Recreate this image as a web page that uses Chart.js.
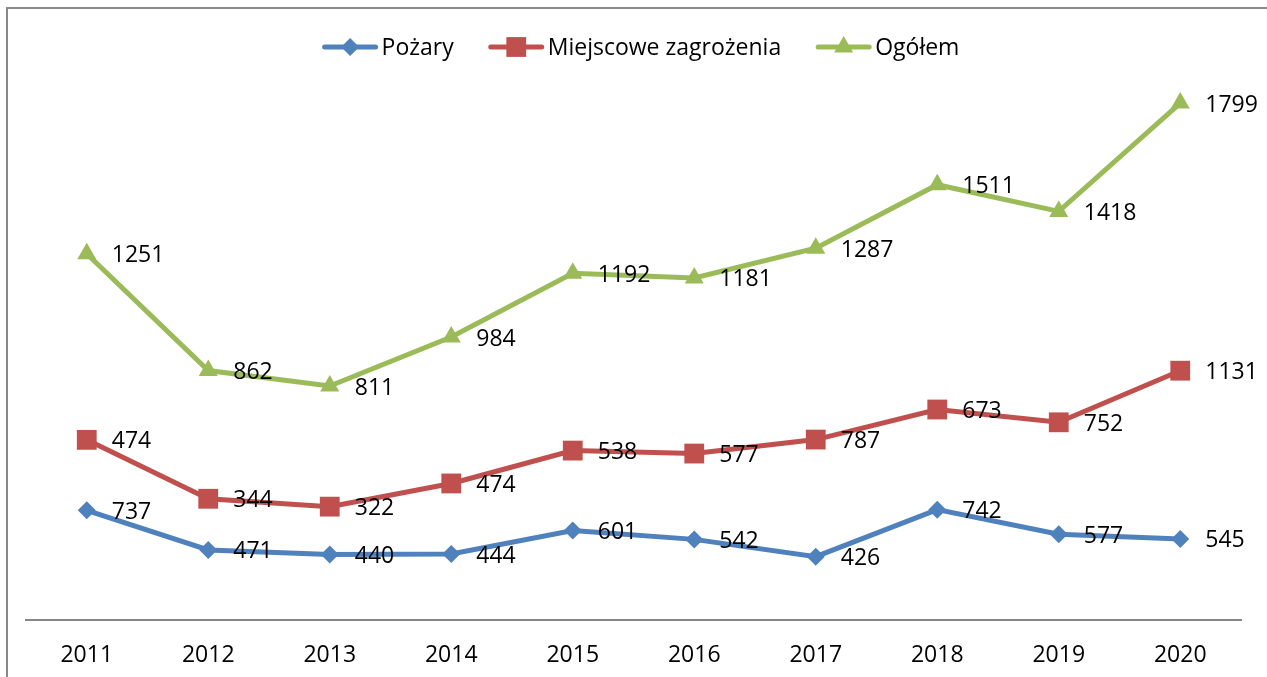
<!DOCTYPE html>
<html>
<head>
<meta charset="utf-8">
<script src="https://cdn.jsdelivr.net/npm/chart.js@4"></script>
<style>
  html, body { margin: 0; padding: 0; background: #fff; overflow: hidden; }
  #frame { position: absolute; left: 6px; top: 7px; width: 1300px; height: 700px;
           border: 2px solid #8a8a8a; pointer-events: none; }
  #chart { position: absolute; left: 0; top: 0; }
</style>
</head>
<body>
<canvas id="chart" width="1267" height="677"></canvas>
<div id="frame"></div>
<script>
// ---------- data ----------
const years = ["2011", "2012", "2013", "2014", "2015", "2016", "2017", "2018", "2019", "2020"];
const pozary = [737, 471, 440, 444, 601, 542, 426, 742, 577, 545];
const miejscowe = [474, 344, 322, 474, 538, 577, 787, 673, 752, 1131];
const ogolem = [1251, 862, 811, 984, 1192, 1181, 1287, 1511, 1418, 1799];
const seriesNames = ["Pożary", "Miejscowe zagrożenia", "Ogółem"];

const FONT = "'Open Sans', 'Noto Sans', sans-serif";
const FONT_SIZE = 23;
const colors = ["#4F81BD", "#C0504D", "#9BBB59"];
const styles = [
  { pointStyle: "rectRot", radius: 9 },
  { pointStyle: "rect", radius: 14 },
  { pointStyle: "triangle", radius: 11 }
];

// small marker drawer (used for legend)
function drawMarker(ctx, style, x, y, color) {
  if (Chart.helpers && Chart.helpers.drawPoint) {
    ctx.fillStyle = color;
    ctx.strokeStyle = color;
    ctx.lineWidth = 0;
    Chart.helpers.drawPoint(ctx, { pointStyle: style.pointStyle, radius: style.radius, rotation: 0, borderWidth: 0 }, x, y);
    return;
  }
  ctx.fillStyle = color;
  ctx.beginPath();
  const r = style.radius;
  if (style.pointStyle === "rectRot") {
    ctx.moveTo(x, y - r); ctx.lineTo(x + r, y); ctx.lineTo(x, y + r); ctx.lineTo(x - r, y);
  } else if (style.pointStyle === "rect") {
    const s = r * Math.SQRT1_2;
    ctx.rect(x - s, y - s, 2 * s, 2 * s);
  } else {
    ctx.moveTo(x, y - r); ctx.lineTo(x + r * 0.866, y + r / 2); ctx.lineTo(x - r * 0.866, y + r / 2);
  }
  ctx.closePath();
  ctx.fill();
}

// ---------- plugins ----------
// legend in Excel style: line segment with marker, then the label
const lineLegend = {
  id: "lineLegend",
  afterDraw(chart) {
    const ctx = chart.ctx;
    ctx.save();
    ctx.font = FONT_SIZE + "px " + FONT;
    const segW = 55, gap = 4, itemGap = 35, cy = 47;
    const widths = seriesNames.map(n => ctx.measureText(n).width);
    let total = 0;
    widths.forEach((w, i) => { total += segW + gap + w + (i ? itemGap : 0); });
    let x = 641 - total / 2;
    seriesNames.forEach((name, i) => {
      ctx.strokeStyle = colors[i];
      ctx.lineWidth = 5;
      ctx.lineCap = "round";
      ctx.beginPath();
      ctx.moveTo(x + 2, cy);
      ctx.lineTo(x + segW - 2, cy);
      ctx.stroke();
      drawMarker(ctx, styles[i], x + segW / 2, cy, colors[i]);
      ctx.fillStyle = "#000";
      ctx.textBaseline = "middle";
      ctx.textAlign = "left";
      ctx.fillText(name, x + segW + gap, cy + 1);
      x += segW + gap + widths[i] + itemGap;
    });
    ctx.restore();
  }
};

// value labels to the right of each point (raw values, not stacked)
const valueLabels = {
  id: "valueLabels",
  afterDatasetsDraw(chart) {
    const ctx = chart.ctx;
    ctx.save();
    ctx.font = FONT_SIZE + "px " + FONT;
    ctx.fillStyle = "#000";
    ctx.textBaseline = "middle";
    ctx.textAlign = "left";
    chart.data.datasets.forEach((ds, i) => {
      chart.getDatasetMeta(i).data.forEach((pt, j) => {
        ctx.fillText(String(ds.data[j]), pt.x + 25, pt.y + 2);
      });
    });
    ctx.restore();
  }
};

const datasets = [pozary, miejscowe, ogolem].map((vals, i) => ({
  label: seriesNames[i],
  data: vals,
  borderColor: colors[i],
  backgroundColor: colors[i],
  borderWidth: 5,
  pointStyle: styles[i].pointStyle,
  pointRadius: styles[i].radius,
  pointHoverRadius: styles[i].radius,
  pointBorderWidth: 0,
  pointBackgroundColor: colors[i],
  tension: 0,
  fill: false
}));

new Chart(document.getElementById("chart"), {
  type: "line",
  data: { labels: years, datasets },
  options: {
    responsive: false,
    animation: false,
    layout: { padding: { left: 26, right: 26, top: 25, bottom: 8 } },
    plugins: { legend: { display: false }, tooltip: { enabled: false } },
    scales: {
      x: {
        offset: true,
        grid: { display: false, drawTicks: false },
        border: { display: true, color: "#868686", width: 2 },
        ticks: { color: "#000", font: { family: FONT, size: FONT_SIZE }, padding: 22, maxRotation: 0 },
        afterFit(scale) { scale.height = 49; }
      },
      y: {
        display: false,
        stacked: true,
        min: 0,
        max: 4000
      }
    }
  },
  plugins: [lineLegend, valueLabels]
});
</script>
</body>
</html>
